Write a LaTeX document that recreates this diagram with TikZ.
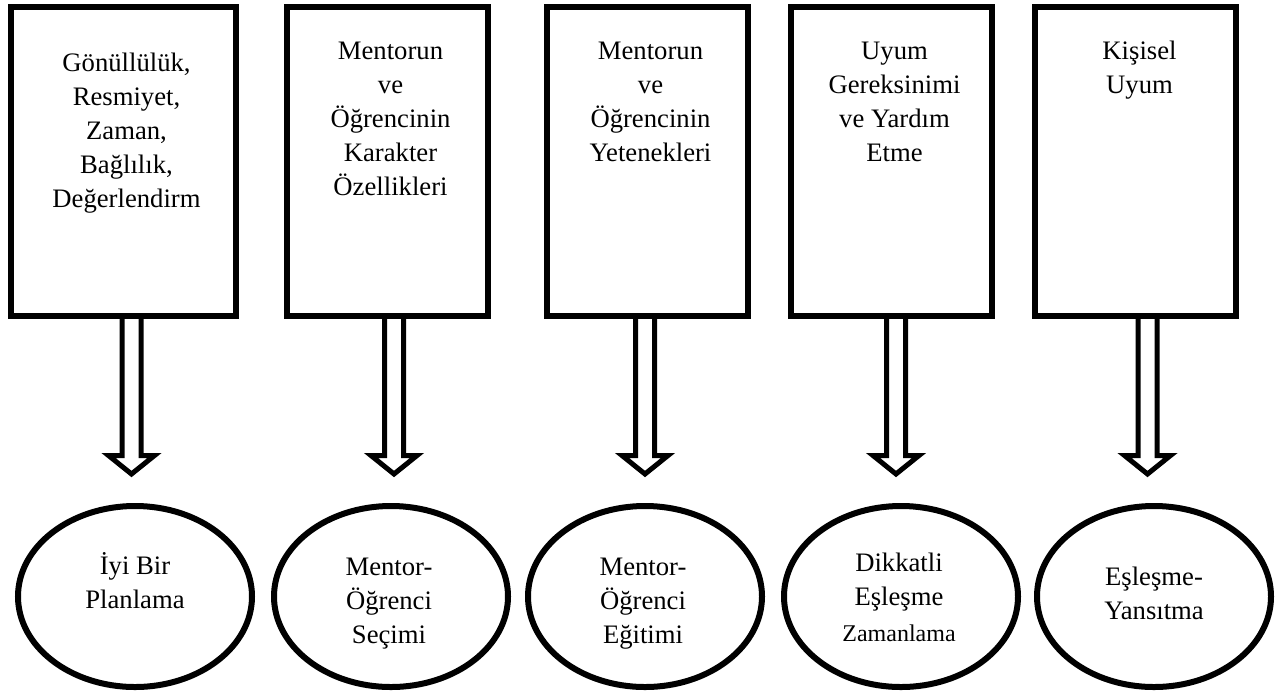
\documentclass[tikz,border=0pt]{standalone}
\usepackage{fontspec}
\setmainfont{Liberation Serif}
\usetikzlibrary{shapes.geometric}
\begin{document}
\begin{tikzpicture}[x=0.75pt,y=-0.75pt,
  box/.style={draw, line width=4.5pt, rectangle, inner sep=0pt,
    minimum width=150.75pt, minimum height=231.75pt},
  oval/.style={draw, line width=4.5pt, ellipse, inner sep=0pt,
    minimum width=175.5pt, minimum height=135.75pt},
  lbl/.style={font=\fontsize{20pt}{25.5pt}\selectfont, align=center,
    inner sep=0pt, anchor=base},
  arrowline/.style={draw, line width=3.75pt, miter limit=10},
  hollowarrow/.pic={
    \draw[arrowline] (-9.5,-3) -- (-9.5,136.5) -- (-23,136.5) -- (0,155)
      -- (23,136.5) -- (9.5,136.5) -- (9.5,-3);
  }]
\useasboundingbox (0,0) rectangle (1277,693);

% upper boxes
\node[box, minimum width=168.75pt] (b1) at (123.5,161.5) {};
\node[box] (b2) at (387.5,161.5) {};
\node[box] (b3) at (647.5,161.5) {};
\node[box] (b4) at (891.5,161.5) {};
\node[box] (b5) at (1135.5,161.5) {};

% box texts, placed by the baseline of their last line
\node[lbl] (b1t) at (126.5,207) {Gönüllülük,\\Resmiyet,\\Zaman,\\Bağlılık,\\Değerlendirm};
\node[lbl] (b2t) at (390.5,195) {Mentorun\\ve\\Öğrencinin\\Karakter\\Özellikleri};
\node[lbl] (b3t) at (650.5,161) {Mentorun\\ve\\Öğrencinin\\Yetenekleri};
\node[lbl] (b4t) at (894.5,161) {Uyum\\Gereksinimi\\ve Yardım\\Etme};
\node[lbl] (b5t) at (1139.5,93) {Kişisel\\Uyum};

% lower ellipses
\node[oval] (e1) at (135,596.5) {};
\node[oval] (e2) at (391,596.5) {};
\node[oval] (e3) at (645,596.5) {};
\node[oval] (e4) at (901,596.5) {};
\node[oval] (e5) at (1154,596.5) {};

\node[lbl] (e1t) at (135,608) {İyi Bir\\Planlama};
\node[lbl] (e2t) at (389,643) {Mentor-\\Öğrenci\\Seçimi};
\node[lbl] (e3t) at (643,643) {Mentor-\\Öğrenci\\Eğitimi};
\node[lbl] (e4t) at (899,641.7) {Dikkatli\\Eşleşme\\[1.5pt]{\fontsize{18pt}{22pt}\selectfont Zamanlama}};
\node[lbl] (e5t) at (1154,619) {Eşleşme-\\Yansıtma};

% hollow arrows from each box towards its ellipse
\coordinate (a1) at (131.5,319);
\coordinate (a2) at (394,319);
\coordinate (a3) at (645,319);
\coordinate (a4) at (896,319);
\coordinate (a5) at (1147.5,319);
\foreach \i in {1,...,5}{
  \pic at (a\i) {hollowarrow};
}
\end{tikzpicture}
\end{document}
